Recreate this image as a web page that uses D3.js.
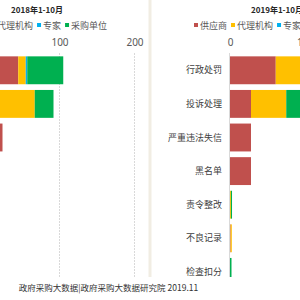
<!DOCTYPE html>
<html>
<head>
<meta charset="utf-8">
<script src="https://cdn.jsdelivr.net/npm/d3@7"></script>
<style>
  body { margin: 0; background: #fff; }
  svg { display: block; }
  text { font-family: "Noto Sans CJK SC", "Noto Sans", sans-serif; }
</style>
</head>
<body>
<div id="chart"></div>
<script>
var width = 300,
  height = 300;

// categories and series
var categories = ["行政处罚", "投诉处理", "严重违法失信", "黑名单", "责令整改", "不良记录", "检查扣分"];
var seriesNames = ["供应商", "代理机构", "专家", "采购单位"];
var seriesColors = ["#c0504d", "#ffc000", "#00b0f0", "#00b050"];
var xTicks = [0, 100, 200];

// 2018年1-10月
var supplier2018 = [45, 20, 24, 15, 0, 1, 0];
var agency2018 = [10, 47, 0, 0, 1, 1, 0];
var expert2018 = [2, 0, 0, 0, 0, 0, 0];
var purchaser2018 = [48, 25, 0, 0, 1, 0, 2];

// 2019年1-10月
var supplier2019 = [61, 28, 28, 28, 0, 0.8, 0];
var agency2019 = [60, 47, 0, 0, 1.2, 1.6, 0];
var expert2019 = [2, 0, 0, 0, 0, 0, 0];
var purchaser2019 = [50, 30, 0, 0, 1.5, 0, 2];

var svg = d3.select("#chart").append("svg")
  .attr("width", width)
  .attr("height", height);

// one panel = one chart; both share the same layout, the left one is shifted off screen
function drawPanel(dx, zeroX, title, cols) {
  var g = svg.append("g").attr("transform", "translate(" + dx + ",0)");

  var rows = categories.map(function (c, i) {
    var r = { cat: c };
    seriesNames.forEach(function (s, j) { r[s] = cols[j][i]; });
    return r;
  });

  var stacked = d3.stack().keys(seriesNames)(rows);

  var x = d3.scaleLinear().domain([0, 200]).range([zeroX, zeroX + 150]);
  var y = d3.scaleBand().domain(categories)
    .range([53.5, 288.7])
    .paddingInner(0.17)
    .paddingOuter(0.085);

  // title
  g.append("text")
    .attr("x", 277).attr("y", 13)
    .attr("text-anchor", "middle")
    .attr("font-size", 8).attr("font-weight", "bold")
    .attr("fill", "#262626")
    .text(title);

  // legend
  var lx = 194;
  seriesNames.forEach(function (s, j) {
    g.append("rect")
      .attr("x", lx).attr("y", 23)
      .attr("width", 4).attr("height", 4)
      .attr("fill", seriesColors[j]);
    var t = g.append("text")
      .attr("x", lx + 6).attr("y", 28.5)
      .attr("font-size", 9).attr("fill", "#595959")
      .text(s);
    lx += 6 + t.node().getComputedTextLength() + 4;
  });

  // gridlines
  g.selectAll(".grid")
    .data(xTicks.filter(function (d) { return d > 0; }))
    .enter().append("line")
    .attr("x1", function (d) { return x(d); })
    .attr("x2", function (d) { return x(d); })
    .attr("y1", 53).attr("y2", 277)
    .attr("stroke", "#d9d9d9")
    .attr("stroke-dasharray", "2,1");

  // top axis labels
  var axis = g.append("g")
    .attr("transform", "translate(0,38)")
    .call(d3.axisTop(x).tickValues(xTicks).tickSize(0).tickPadding(0));
  axis.select(".domain").remove();
  axis.selectAll("text")
    .attr("font-size", 10)
    .attr("fill", "#595959")
    .attr("dy", "0.35em")
    .attr("y", 4)
    .style("font-family", "'Noto Sans', sans-serif");

  // vertical axis line (behind the bars)
  g.append("line")
    .attr("x1", x(0) - 0.5).attr("x2", x(0) - 0.5)
    .attr("y1", 53).attr("y2", 277)
    .attr("stroke", "#d9d9d9");

  // bars
  g.selectAll(".series")
    .data(stacked)
    .enter().append("g")
    .attr("fill", function (d, j) { return seriesColors[j]; })
    .selectAll("rect")
    .data(function (d) { return d; })
    .enter().append("rect")
    .attr("x", function (d) { return x(d[0]); })
    .attr("width", function (d) { return x(d[1]) - x(d[0]); })
    .attr("y", function (d) { return y(d.data.cat); })
    .attr("height", y.bandwidth());

  // category labels
  g.selectAll(".cat")
    .data(categories)
    .enter().append("text")
    .attr("x", 222)
    .attr("y", function (d) { return y(d) + y.bandwidth() / 2; })
    .attr("dy", "0.35em")
    .attr("text-anchor", "end")
    .attr("font-size", 9)
    .attr("fill", "#404040")
    .text(function (d) { return d; });
}

drawPanel(-240, 224.5, "2018年1-10月", [supplier2018, agency2018, expert2018, purchaser2018]);
drawPanel(0, 230, "2019年1-10月", [supplier2019, agency2019, expert2019, purchaser2019]);

// gap between the two pictures
svg.append("rect")
  .attr("x", 148.5).attr("y", 0)
  .attr("width", 3).attr("height", 277)
  .attr("fill", "#f1ede3");

// footer
svg.append("rect")
  .attr("x", 0).attr("y", 277)
  .attr("width", width).attr("height", 23)
  .attr("fill", "#fff");
svg.append("text")
  .attr("x", 108.5).attr("y", 290.5)
  .attr("text-anchor", "middle")
  .attr("font-size", 8.5)
  .attr("fill", "#333")
  .text("政府采购大数据|政府采购大数据研究院 2019.11");
</script>
</body>
</html>
